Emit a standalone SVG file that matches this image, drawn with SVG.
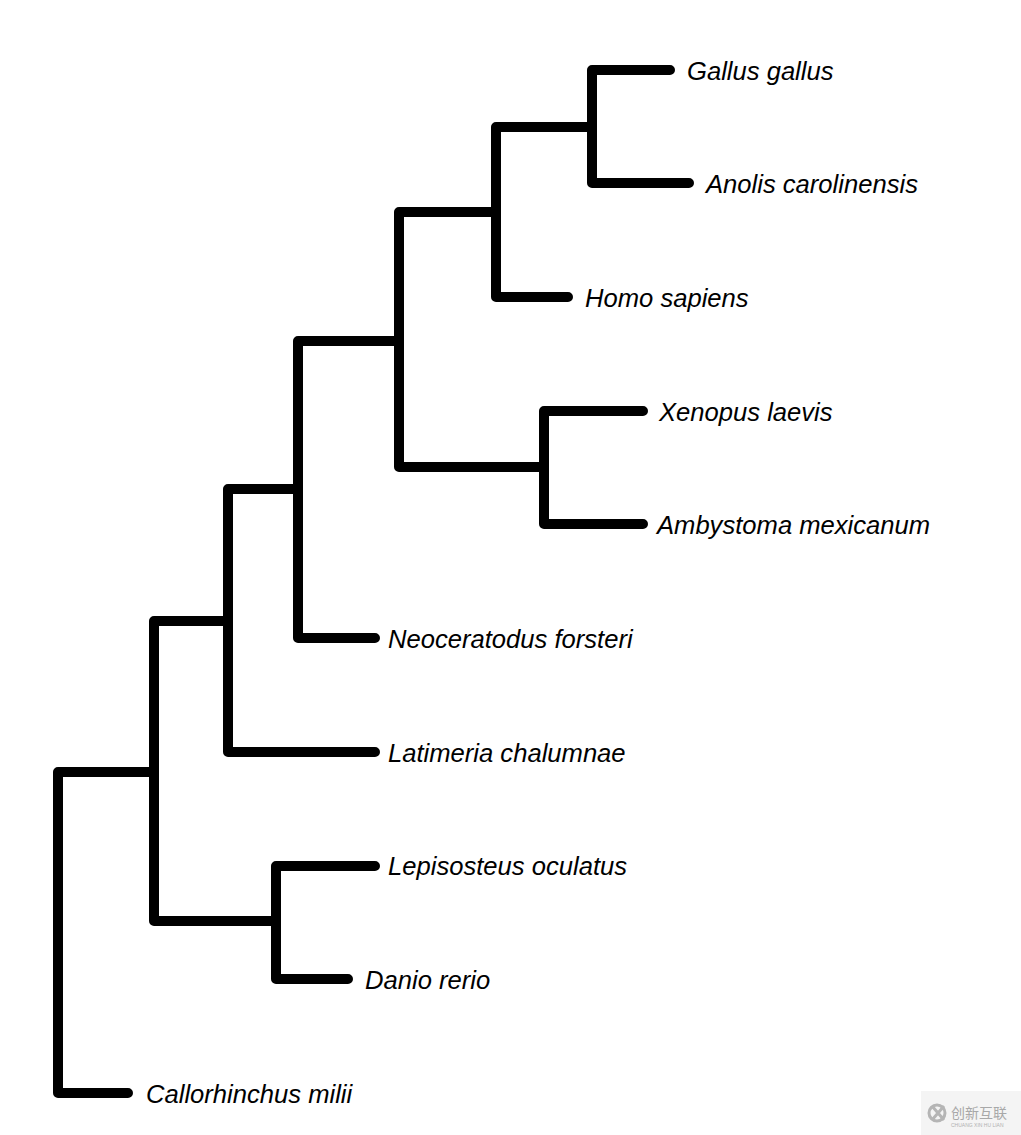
<svg xmlns="http://www.w3.org/2000/svg" width="1021" height="1135" viewBox="0 0 1021 1135">
<style>
.e{fill:none;stroke:#000;stroke-width:10;stroke-linecap:round;stroke-linejoin:round}
.t{font-family:"Liberation Sans",Arial,sans-serif;font-style:italic;font-size:25.6px;fill:#000}
</style>
<rect width="1021" height="1135" fill="#fff"/>
<g id="edges">
<path class="e" d="M128,1093 H58 V772 H154"/>
<path class="e" d="M154,772 V621 H228"/>
<path class="e" d="M154,772 V921 H276"/>
<path class="e" d="M375,866 H276 V979 H348"/>
<path class="e" d="M228,621 V489 H298"/>
<path class="e" d="M228,621 V752 H375"/>
<path class="e" d="M298,489 V341 H399"/>
<path class="e" d="M298,489 V638 H375"/>
<path class="e" d="M399,341 V212 H496"/>
<path class="e" d="M399,341 V467 H544"/>
<path class="e" d="M643,411 H544 V524 H643"/>
<path class="e" d="M496,212 V127 H592"/>
<path class="e" d="M496,212 V297 H568"/>
<path class="e" d="M670,70 H592 V183 H689"/>
</g>
<g id="tip-gallus"><text class="t" x="687" y="79.5">Gallus gallus</text></g>
<g id="tip-anolis"><text class="t" x="706" y="193">Anolis carolinensis</text></g>
<g id="tip-homo"><text class="t" x="585" y="307">Homo sapiens</text></g>
<g id="tip-xenopus"><text class="t" x="659" y="421">Xenopus laevis</text></g>
<g id="tip-ambystoma"><text class="t" x="657" y="534">Ambystoma mexicanum</text></g>
<g id="tip-neoceratodus"><text class="t" x="388" y="648">Neoceratodus forsteri</text></g>
<g id="tip-latimeria"><text class="t" x="388" y="762">Latimeria chalumnae</text></g>
<g id="tip-lepisosteus"><text class="t" x="388" y="875">Lepisosteus oculatus</text></g>
<g id="tip-danio"><text class="t" x="365" y="989">Danio rerio</text></g>
<g id="tip-callorhinchus"><text class="t" x="146" y="1103">Callorhinchus milii</text></g>
<g id="watermark">
<rect x="921" y="1091" width="100" height="44" fill="#f4f4f4"/>
<circle cx="937" cy="1113" r="8" fill="none" stroke="#b5b5b5" stroke-width="3"/>
<path d="M932,1106 L944,1120 M944,1106 L932,1120" stroke="#b5b5b5" stroke-width="3"/>
<text x="951" y="1118" font-family="'Noto Sans CJK SC',sans-serif" font-size="14" fill="#a8a8a8">创新互联</text>
<text x="951" y="1127" font-family="'Liberation Sans',sans-serif" font-size="5" fill="#b0b0b0">CHUANG XIN HU LIAN</text>
</g>
</svg>
